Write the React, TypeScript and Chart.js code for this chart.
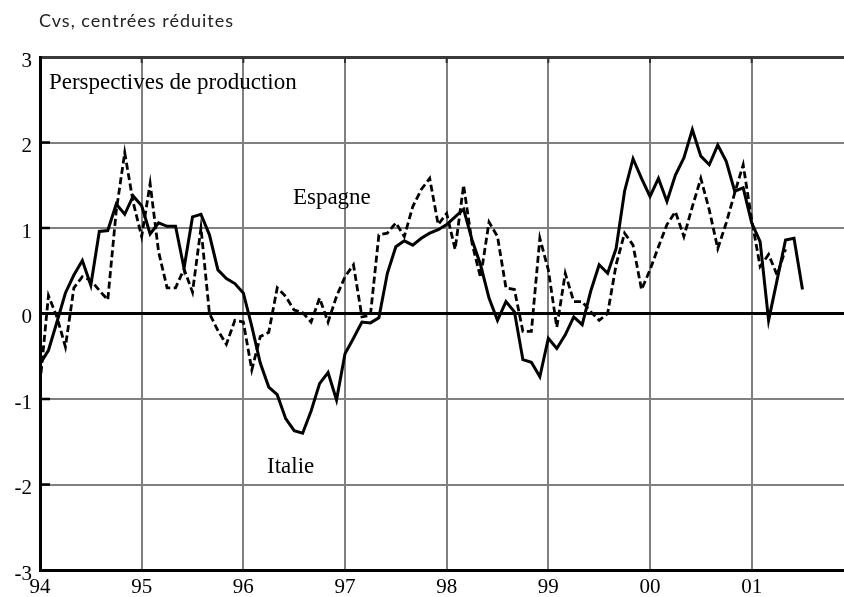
import React, { useEffect, useRef } from 'react';
import { Chart, registerables } from 'chart.js';

Chart.register(...registerables);

// Year tick labels (one per January, month index = i * 12, Jan 1994 = 0)
const yearLabels = ['94', '95', '96', '97', '98', '99', '00', '01'];
const yTickValues = [-3, -2, -1, 0, 1, 2, 3];

// Monthly values, Jan 1994 onward
const italie = [
  -0.59, -0.43, -0.1, 0.24, 0.45, 0.62, 0.33, 0.96, 0.97, 1.28, 1.16, 1.375,
  1.26, 0.93, 1.06, 1.02, 1.02, 0.53, 1.13, 1.16, 0.92, 0.51, 0.41, 0.35,
  0.24, -0.15, -0.58, -0.86, -0.95, -1.23, -1.37, -1.4, -1.14, -0.82, -0.69, -1.01,
  -0.47, -0.29, -0.1, -0.11, -0.05, 0.47, 0.78, 0.85, 0.8, 0.88, 0.94, 0.98,
  1.04, 1.13, 1.22, 0.86, 0.57, 0.18, -0.08, 0.14, 0.02, -0.54, -0.57, -0.74,
  -0.29, -0.41, -0.25, -0.04, -0.13, 0.26, 0.57, 0.47, 0.76, 1.43, 1.81, 1.58,
  1.37, 1.58, 1.31, 1.62, 1.82, 2.15, 1.84, 1.74, 1.97, 1.78, 1.43, 1.47,
  1.06, 0.84, -0.08, 0.39, 0.86, 0.88, 0.28,
];

const espagne = [
  -0.82, 0.21, -0.04, -0.39, 0.3, 0.43, 0.39, 0.27, 0.16, 1.2, 1.88, 1.3,
  0.9, 1.52, 0.72, 0.3, 0.3, 0.52, 0.25, 1.0, 0.0, -0.2, -0.36, -0.08,
  -0.1, -0.66, -0.27, -0.22, 0.3, 0.2, 0.04, 0.01, -0.1, 0.18, -0.1, 0.2,
  0.43, 0.57, -0.04, -0.02, 0.92, 0.94, 1.06, 0.9, 1.25, 1.45, 1.58, 1.04,
  1.17, 0.75, 1.5, 0.82, 0.42, 1.07, 0.9, 0.3, 0.28, -0.21, -0.21, 0.88,
  0.51, -0.16, 0.47, 0.14, 0.14, 0.02, -0.08, 0.0, 0.57, 0.94, 0.8, 0.28,
  0.51, 0.78, 1.04, 1.19, 0.9, 1.25, 1.58, 1.21, 0.76, 1.06, 1.41, 1.74,
  1.1, 0.55, 0.69, 0.45, 0.75,
];

// Text annotations anchored in data coordinates (month index, value)
const textLabels = [
  { text: 'Perspectives de production', month: 1.05, value: 2.62 },
  { text: 'Espagne', month: 29.85, value: 1.28 },
  { text: 'Italie', month: 26.8, value: -1.86 },
];

const SERIF = '"Liberation Serif", "Times New Roman", Times, serif';

export default function App() {
  const ref = useRef<HTMLCanvasElement>(null);

  useEffect(() => {
    const canvas = ref.current;
    if (!canvas) return;

    const toPts = (arr: number[]) => arr.map((v, i) => ({ x: i, y: v }));

    const annotations = {
      id: 'annotations',
      afterDraw(chart: any) {
        const { ctx, scales } = chart;
        const x = scales.x;
        const y = scales.y;
        ctx.save();
        ctx.textAlign = 'left';
        ctx.textBaseline = 'alphabetic';
        ctx.font = '18px Lato, "Open Sans", sans-serif';
        ctx.fillStyle = '#222';
        try {
          (ctx as any).letterSpacing = '1px';
        } catch (e) {
          /* ignore */
        }
        ctx.fillText('Cvs, centrées réduites', 39, 27);
        try {
          (ctx as any).letterSpacing = '0px';
        } catch (e) {
          /* ignore */
        }
        ctx.fillStyle = '#000';
        ctx.font = `23px ${SERIF}`;
        for (const t of textLabels) {
          ctx.fillText(t.text, x.getPixelForValue(t.month), y.getPixelForValue(t.value));
        }
        // inner tick marks on the y axis
        ctx.strokeStyle = '#000';
        ctx.lineWidth = 2.5;
        for (const v of yTickValues) {
          if (v === -3 || v === 3) continue;
          const py = y.getPixelForValue(v);
          ctx.beginPath();
          ctx.moveTo(x.left, py);
          ctx.lineTo(x.left + 10, py);
          ctx.stroke();
        }
        // short inner ticks at the top for x
        ctx.strokeStyle = '#333';
        ctx.lineWidth = 2;
        yearLabels.forEach((_, i) => {
          if (i === 0) return;
          const px = x.getPixelForValue(i * 12);
          ctx.beginPath();
          ctx.moveTo(px, y.top);
          ctx.lineTo(px, y.top + 6);
          ctx.stroke();
        });
        ctx.restore();
      },
    };

    const chart = new Chart(canvas, {
      type: 'line',
      data: {
        datasets: [
          {
            label: 'Italie',
            data: toPts(italie),
            borderColor: '#000',
            borderWidth: 3,
            pointRadius: 0,
            tension: 0,
            fill: false,
          },
          {
            label: 'Espagne',
            data: toPts(espagne),
            borderColor: '#000',
            borderWidth: 2.8,
            borderDash: [7, 3.5],
            pointRadius: 0,
            tension: 0,
            fill: false,
          },
        ],
      },
      options: {
        animation: false,
        responsive: false,
        layout: { padding: { top: 57, right: 0, left: 0, bottom: 0 } },
        plugins: { legend: { display: false }, tooltip: { enabled: false } },
        scales: {
          x: {
            type: 'linear',
            min: 0,
            max: 94.9,
            afterBuildTicks: (s: any) => {
              s.ticks = yearLabels.map((_, i) => ({ value: i * 12 }));
            },
            afterFit: (s: any) => {
              s.height = 27;
            },
            ticks: {
              callback: (v: any) => yearLabels[Math.round(Number(v) / 12)],
              font: { family: SERIF, size: 21 },
              color: '#000',
              padding: 5,
              maxRotation: 0,
              autoSkip: false,
            },
            grid: { color: '#808080', lineWidth: 2, drawTicks: false },
            border: { display: true, color: '#000', width: 3 },
          },
          y: {
            type: 'linear',
            min: -3,
            max: 3,
            afterBuildTicks: (s: any) => {
              s.ticks = yTickValues.map((v) => ({ value: v }));
            },
            afterFit: (s: any) => {
              s.width = 40;
            },
            ticks: {
              callback: (v: any) => String(v),
              font: { family: SERIF, size: 21 },
              color: '#000',
              padding: 8,
              labelOffset: 4,
            },
            grid: {
              drawTicks: false,
              color: (c: any) => (c.tick && c.tick.value === 0 ? '#000' : c.tick && c.tick.value === 3 ? '#3a3a3a' : '#808080'),
              lineWidth: (c: any) => (c.tick && (c.tick.value === 0 || c.tick.value === 3) ? 3 : 2),
            },
            border: { display: true, color: '#000', width: 3 },
          },
        },
      },
      plugins: [annotations],
    });

    return () => chart.destroy();
  }, []);

  return (
    <div style={{ position: 'absolute', left: 0, top: 0, width: 844, height: 597, background: '#fff' }}>
      <canvas ref={ref} width={844} height={597} style={{ display: 'block', width: 844, height: 597 }} />
    </div>
  );
}
